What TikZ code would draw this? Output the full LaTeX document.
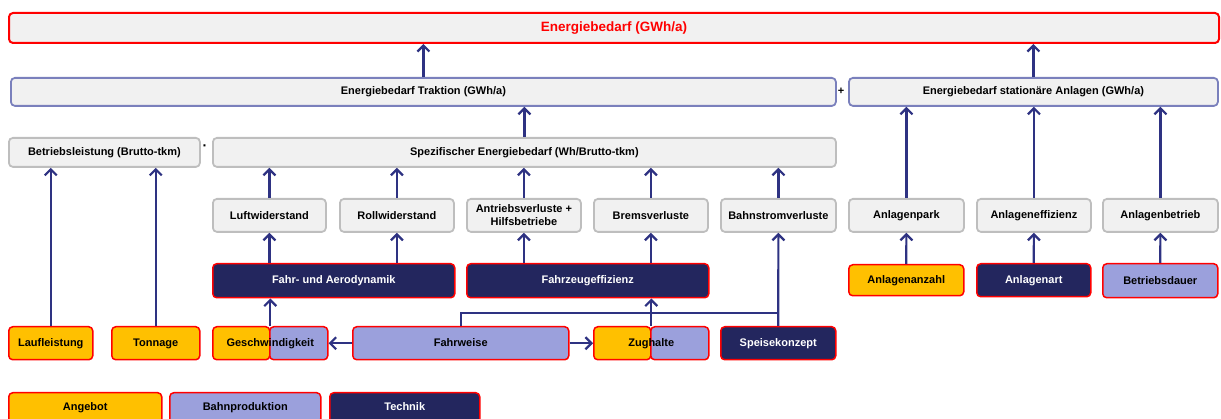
\documentclass[tikz,border=0pt]{standalone}
\usepackage{fontspec}
\setmainfont{Liberation Sans}
\usetikzlibrary{arrows.meta}
\definecolor{boxfill}{RGB}{241,241,241}
\definecolor{greyline}{RGB}{190,190,190}
\definecolor{lilacline}{RGB}{122,128,188}
\definecolor{orangef}{RGB}{255,192,0}
\definecolor{lilacf}{RGB}{155,160,220}
\definecolor{navyf}{RGB}{35,38,94}
\definecolor{arrowc}{RGB}{46,50,130}
\definecolor{redl}{RGB}{255,0,0}
\begin{document}
\begin{tikzpicture}[x=1pt,y=-1pt,
  base/.style={rounded corners=4pt, anchor=north west, inner sep=0pt, align=center,
    font=\fontsize{11}{13}\selectfont\bfseries},
  greybox/.style={base, fill=boxfill, draw=greyline, line width=1.8pt},
  lilbox/.style={base, fill=boxfill, draw=lilacline, line width=1.8pt},
  topbox/.style={base, fill=boxfill, draw=redl, line width=2pt, text=redl,
    font=\fontsize{13.5}{15}\selectfont\bfseries},
  orbox/.style={base, fill=orangef, draw=redl, line width=1.5pt},
  lbox/.style={base, fill=lilacf, draw=redl, line width=1.5pt},
  nbox/.style={base, fill=navyf, draw=redl, line width=1.5pt, text=white},
  lbl/.style={base, draw=none, fill=none, line width=1.5pt},
  arr/.style={draw=arrowc, line width=2.2pt, -{Straight Barb[length=6pt,width=12pt]}},
  ln/.style={draw=arrowc, line width=2.2pt},
  sym/.style={inner sep=0pt, font=\fontsize{11}{12}\selectfont\bfseries},
]
\useasboundingbox (0,0) rectangle (1221,419);
\clip (0,0) rectangle (1221,419);
% row 1
\node[topbox, minimum width=1210pt, minimum height=30pt] (top) at (8,12) {Energiebedarf (GWh/a)};
% row 2
\node[lilbox, minimum width=825pt, minimum height=28pt] (trak) at (10,77) {Energiebedarf Traktion (GWh/a)};
\node[lilbox, minimum width=369pt, minimum height=28pt] (stat) at (848,77) {Energiebedarf stationäre Anlagen (GWh/a)};
\node[sym] (plus) at (841,91) {+};
% row 3
\node[greybox, minimum width=191pt, minimum height=29pt] (betr) at (8,137) {Betriebsleistung (Brutto-tkm)};
\node[greybox, minimum width=623pt, minimum height=29pt] (spez) at (212,137) {Spezifischer Energiebedarf (Wh/Brutto-tkm)};
\node[sym, font=\fontsize{14}{14}\selectfont\bfseries] (dot) at (205,148) {\symbol{"00B7}};
% row 4
\node[greybox, minimum width=113pt, minimum height=33pt] (luft) at (212,198) {Luftwiderstand};
\node[greybox, minimum width=114pt, minimum height=33pt] (roll) at (339,198) {Rollwiderstand};
\node[greybox, minimum width=114pt, minimum height=33pt] (antr) at (466,198) {Antriebsverluste +\\Hilfsbetriebe};
\node[greybox, minimum width=114pt, minimum height=33pt] (brems) at (593,198) {Bremsverluste};
\node[greybox, minimum width=115pt, minimum height=33pt] (bstrom) at (720,198) {Bahnstromverluste};
\node[greybox, minimum width=115pt, minimum height=33pt] (apark) at (848,198) {Anlagenpark};
\node[greybox, minimum width=114pt, minimum height=33pt] (aeff) at (976,198) {Anlageneffizienz};
\node[greybox, minimum width=115pt, minimum height=33pt] (abetr) at (1102,198) {Anlagenbetrieb};
% row 5
\node[nbox, minimum width=242pt, minimum height=34pt] (aero) at (212,263) {Fahr- und Aerodynamik};
\node[nbox, minimum width=242pt, minimum height=34pt] (fzeff) at (466,263) {Fahrzeugeffizienz};
\node[orbox, minimum width=115pt, minimum height=31pt] (aanz) at (848,264) {Anlagenanzahl};
\node[nbox, minimum width=114pt, minimum height=33pt] (aart) at (976,263) {Anlagenart};
\node[lbox, minimum width=115pt, minimum height=34pt] (bdauer) at (1102,263) {Betriebsdauer};
% row 6
\tikzset{r6/.style={minimum height=33pt, text height=8pt, text depth=2.3pt}}
\node[orbox, r6, minimum width=84pt] (lauf) at (8,326) {Laufleistung};
\node[orbox, r6, minimum width=88pt] (ton) at (111,326) {Tonnage};
\node[orbox, r6, minimum width=57pt] (geschA) at (212,326) {};
\node[lbox, r6, minimum width=58pt] (geschB) at (269,326) {};
\node[lbl, r6, minimum width=115pt] (gesch) at (212,326) {Geschwindigkeit};
\node[lbox, r6, minimum width=216pt] (fweise) at (352,326) {Fahrweise};
\node[orbox, r6, minimum width=57pt] (zugA) at (593,326) {};
\node[lbox, r6, minimum width=58pt] (zugB) at (650,326) {};
\node[lbl, r6, minimum width=115pt] (zug) at (593,326) {Zughalte};
\node[nbox, r6, minimum width=115pt] (speise) at (720,326) {Speisekonzept};
% legend
\tikzset{lg/.style={minimum height=30pt, text height=8pt, text depth=2.3pt}}
\node[orbox, lg, minimum width=153pt] (leg1) at (8,392) {Angebot};
\node[lbox, lg, minimum width=151pt] (leg2) at (169,392) {Bahnproduktion};
\node[nbox, lg, minimum width=150pt] (leg3) at (329,392) {Technik};
% arrows
\draw[arr] (trak.north) -- (trak.north |- top.south);
\draw[arr] (stat.north) -- (stat.north |- top.south);
\draw[arr] (spez.north) -- (spez.north |- trak.south);
\draw[arr] (lauf.north) -- (lauf.north |- betr.south);
\draw[arr] (ton.north) -- (ton.north |- betr.south);
\foreach \n in {luft,roll,antr,brems,bstrom} \draw[arr] (\n.north) -- (\n.north |- spez.south);
\foreach \n in {apark,aeff,abetr} \draw[arr] (\n.north) -- (\n.north |- stat.south);
\draw[arr] (luft.south |- aero.north) -- (luft.south);
\draw[arr] (roll.south |- aero.north) -- (roll.south);
\draw[arr] (antr.south |- fzeff.north) -- (antr.south);
\draw[arr] (brems.south |- fzeff.north) -- (brems.south);
\draw[arr] (aanz.north) -- (apark.south);
\draw[arr] (aart.north) -- (aeff.south);
\draw[arr] (bdauer.north) -- (abetr.south);
\draw[arr] (speise.north) -- (bstrom.south);
\coordinate (jn) at (777.5,313);
\draw[ln] (fweise.north) |- (jn);
\draw[arr] (zug.north) -- (zug.north |- fzeff.south);
\draw[arr] (gesch.north) -- (gesch.north |- aero.south);
\draw[arr] (fweise.west) -- (gesch.east);
\draw[arr] (fweise.east) -- (zug.west);
\end{tikzpicture}
\end{document}
